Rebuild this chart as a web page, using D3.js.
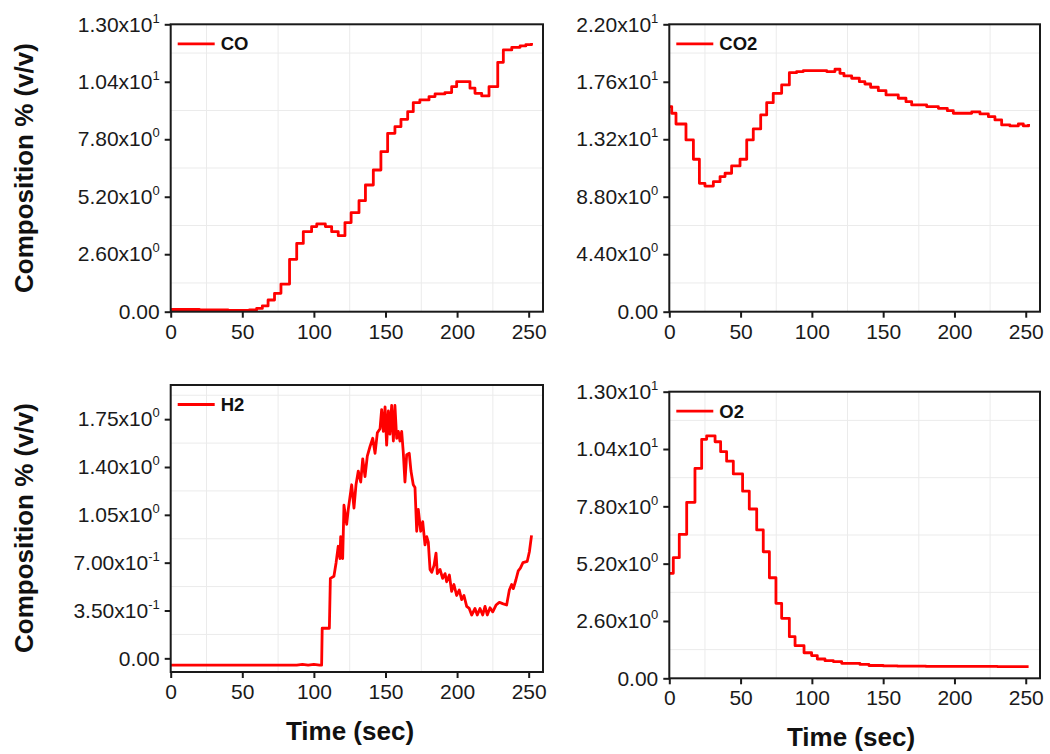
<!DOCTYPE html>
<html><head><meta charset="utf-8">
<script src="https://cdn.jsdelivr.net/npm/d3@7"></script>
<style>
body{margin:0;background:#fff}
svg{display:block}
text{font-family:"Liberation Sans",Arial,Helvetica,sans-serif}
</style>
</head><body>
<svg id="c" width="1050" height="754"></svg>
<script>
// ---------- data ----------
const xTicks = [0, 50, 100, 150, 200, 250];
const xGrid = [25, 75, 125, 175, 225];

const coTicks = [0, 2.6, 5.2, 7.8, 10.4, 13];
const coGrid = [1.3, 3.9, 6.5, 9.1, 11.7];
const coTime = [0, 20, 40, 55, 60, 64, 68, 72.5, 77, 83, 88, 92.6, 98.4, 102, 108, 112.4, 117, 121.7, 126, 131.5, 136, 141.5, 146.8, 151.5, 156.6, 160.8, 165.5, 169.4, 174, 180.4, 184.6, 191.5, 196.2, 199.7, 209, 212.5, 217.2, 222.3, 228.4, 232.3, 238.2, 244, 248, 252];
const coValue = [0.10, 0.08, 0.06, 0.08, 0.15, 0.26, 0.53, 0.83, 1.25, 2.37, 3.09, 3.62, 3.85, 3.97, 3.85, 3.62, 3.44, 4.03, 4.48, 5.02, 5.73, 6.41, 7.24, 8.07, 8.37, 8.70, 9.05, 9.46, 9.58, 9.73, 9.85, 9.91, 10.18, 10.41, 10.11, 9.88, 9.76, 10.18, 11.28, 11.84, 11.96, 12.02, 12.08, 12.15];

const co2Ticks = [0, 4.4, 8.8, 13.2, 17.6, 22];
const co2Grid = [2.2, 6.6, 11, 15.4, 19.8];
const co2Time = [0, 1.7, 4.7, 11.7, 16.9, 21.1, 25, 30.9, 35.6, 39.1, 43.7, 49.6, 54.3, 58.9, 64.1, 68.3, 72.9, 78.8, 84.2, 89.3, 94, 110.4, 116.2, 119.7, 122.5, 127.9, 133.3, 137.2, 141.2, 146.6, 152, 160.6, 166, 170, 180.5, 188.7, 195, 199.2, 212.1, 217.9, 223.8, 228.4, 233.1, 238.9, 244.8, 248.3, 252];
const co2Value = [15.70, 15.19, 14.37, 13.15, 11.67, 9.83, 9.62, 9.95, 10.34, 10.60, 11.16, 11.67, 13.15, 13.99, 15.06, 16.00, 16.72, 17.36, 18.30, 18.38, 18.45, 18.38, 18.56, 18.25, 18.05, 17.87, 17.61, 17.43, 17.18, 16.92, 16.59, 16.34, 16.08, 15.83, 15.70, 15.57, 15.39, 15.19, 15.29, 15.14, 14.93, 14.68, 14.30, 14.22, 14.37, 14.22, 14.37];

const h2Ticks = [0, 0.35, 0.7, 1.05, 1.4, 1.75];
const h2Grid = [0.175, 0.525, 0.875, 1.225, 1.575, 1.925];
const h2Time = [0, 88, 92, 96, 100, 104, 105.4, 105.8, 110.8, 111.5, 114, 115.5, 117, 118.2, 118.7, 120.1, 121, 122.9, 124, 126.4, 128, 129.4, 131, 132.7, 134.1, 135.7, 137.3, 139.2, 141.1, 142.7, 144.3, 146.2, 147.3, 148.5, 149.7, 150.8, 152, 153.1, 154.3, 155.5, 156.6, 157.8, 159, 160.1, 161.3, 162.4, 163.6, 164.8, 166.6, 167.8, 169.4, 170.6, 171.8, 172.9, 174.6, 176, 177.6, 178.8, 179.9, 181.1, 182.3, 183.9, 185.3, 186.2, 188.1, 189.9, 191.6, 192.7, 194.6, 196.2, 197.8, 199.7, 201.5, 203.2, 204.8, 206.7, 208.5, 210.2, 212.5, 214.1, 216, 217.9, 219.5, 221.1, 223, 224.9, 227.2, 229.5, 231.8, 234.6, 236.5, 238.1, 239.3, 241.1, 242.7, 244.2, 246, 249, 250.5, 252];
const h2Value = [-0.05, -0.05, -0.045, -0.05, -0.045, -0.05, -0.05, 0.22, 0.22, 0.585, 0.60, 0.70, 0.82, 0.73, 0.89, 0.73, 1.12, 0.98, 1.09, 1.27, 1.10, 1.27, 1.37, 1.29, 1.46, 1.33, 1.48, 1.55, 1.61, 1.50, 1.65, 1.68, 1.82, 1.66, 1.84, 1.56, 1.81, 1.64, 1.85, 1.59, 1.85, 1.61, 1.66, 1.59, 1.66, 1.51, 1.29, 1.49, 1.50, 1.37, 1.27, 1.25, 0.93, 1.09, 0.93, 1.00, 0.83, 0.89, 0.85, 0.65, 0.63, 0.68, 0.77, 0.62, 0.65, 0.585, 0.62, 0.56, 0.61, 0.49, 0.54, 0.46, 0.50, 0.43, 0.46, 0.38, 0.365, 0.317, 0.365, 0.317, 0.365, 0.317, 0.38, 0.317, 0.37, 0.34, 0.39, 0.41, 0.40, 0.39, 0.50, 0.54, 0.51, 0.575, 0.64, 0.66, 0.70, 0.71, 0.78, 0.90];

const o2Ticks = [0, 2.6, 5.2, 7.8, 10.4, 13];
const o2Grid = [1.3, 3.9, 6.5, 9.1, 11.7];
const o2Time = [0, 2.8, 7, 12.2, 18, 22.7, 26.2, 32.1, 36, 40.2, 44.9, 51.4, 56.1, 61.3, 65.9, 70.2, 74.8, 78.8, 84.2, 88.2, 94.5, 99.8, 103.8, 109.2, 115, 120.9, 133.7, 140, 150, 160, 180, 200, 230, 252];
const o2Value = [4.76, 5.47, 6.53, 7.98, 9.52, 10.84, 11.0, 10.73, 10.28, 9.85, 9.27, 8.49, 7.68, 6.73, 5.74, 4.56, 3.40, 2.72, 1.89, 1.48, 1.16, 1.03, 0.875, 0.80, 0.76, 0.68, 0.63, 0.58, 0.56, 0.55, 0.54, 0.54, 0.53, 0.53];

const seriesNames = ["CO", "CO2", "H2", "O2"];
const yLabel = "Composition % (v/v)";
const xLabel = "Time (sec)";

// ---------- drawing ----------
const svg = d3.select("#c");
const FONT = '"Liberation Sans",Arial,Helvetica,sans-serif';
const xDomain = [0, 260];

const panels = [
  {name: seriesNames[0], time: coTime, value: coValue, ticks: coTicks, grid: coGrid, yDomain: [0, 13], curve: d3.curveStepAfter,
   left: 170.7, right: 543, top: 24.3, bottom: 311.7},
  {name: seriesNames[1], time: co2Time, value: co2Value, ticks: co2Ticks, grid: co2Grid, yDomain: [0, 22], curve: d3.curveStepAfter,
   left: 669.3, right: 1040, top: 24.3, bottom: 311.7},
  {name: seriesNames[2], time: h2Time, value: h2Value, ticks: h2Ticks, grid: h2Grid, yDomain: [-0.1, 2.0], curve: d3.curveLinear,
   left: 170.7, right: 543, top: 385, bottom: 672},
  {name: seriesNames[3], time: o2Time, value: o2Value, ticks: o2Ticks, grid: o2Grid, yDomain: [0, 13], curve: d3.curveStepAfter,
   left: 669.3, right: 1040, top: 391.7, bottom: 678.3}
];

function sciParts(v) {
  if (v === 0) return ["0.00", null];
  const e = Math.floor(Math.log10(v) + 1e-9);
  const m = v / Math.pow(10, e);
  return [m.toFixed(2) + "x10", String(e)];
}

panels.forEach(p => {
  const x = d3.scaleLinear().domain(xDomain).range([p.left, p.right]);
  const y = d3.scaleLinear().domain(p.yDomain).range([p.bottom, p.top]);
  const g = svg.append("g");

  // grid
  g.append("g").selectAll("line").data(xGrid).join("line")
    .attr("x1", d => x(d)).attr("x2", d => x(d))
    .attr("y1", p.top).attr("y2", p.bottom)
    .attr("stroke", "#ebebeb").attr("stroke-width", 1);
  g.append("g").selectAll("line").data(p.grid).join("line")
    .attr("x1", p.left).attr("x2", p.right)
    .attr("y1", d => y(d)).attr("y2", d => y(d))
    .attr("stroke", "#ebebeb").attr("stroke-width", 1);

  // series
  const pts = p.time.map((t, i) => [t, p.value[i]]);
  g.append("path").datum(pts)
    .attr("d", d3.line().x(d => x(d[0])).y(d => y(d[1])).curve(p.curve))
    .attr("fill", "none").attr("stroke", "#ff0000")
    .attr("stroke-width", 2.8).attr("stroke-linejoin", "round");

  // frame
  g.append("rect").attr("x", p.left).attr("y", p.top)
    .attr("width", p.right - p.left).attr("height", p.bottom - p.top)
    .attr("fill", "none").attr("stroke", "#1a1a1a").attr("stroke-width", 2);

  // x axis
  const ax = g.append("g").attr("transform", `translate(0,${p.bottom})`)
    .call(d3.axisBottom(x).tickValues(xTicks).tickSize(6).tickSizeOuter(0).tickPadding(6).tickFormat(d3.format("d")));
  ax.select(".domain").remove();
  ax.attr("font-family", FONT).attr("font-size", 21);
  ax.selectAll(".tick line").attr("stroke", "#1a1a1a").attr("stroke-width", 2);
  ax.selectAll(".tick text").attr("fill", "#1a1a1a");

  // y axis
  const ay = g.append("g").attr("transform", `translate(${p.left},0)`)
    .call(d3.axisLeft(y).tickValues(p.ticks).tickSize(6).tickSizeOuter(0).tickPadding(5).tickFormat(""));
  ay.select(".domain").remove();
  ay.attr("font-family", FONT).attr("font-size", 21);
  ay.selectAll(".tick line").attr("stroke", "#1a1a1a").attr("stroke-width", 2);
  ay.selectAll(".tick text").each(function(d) {
    const t = d3.select(this).attr("fill", "#1a1a1a");
    const [m, e] = sciParts(d);
    t.text(null);
    t.append("tspan").text(m);
    if (e !== null) t.append("tspan").attr("font-size", 13).attr("dy", -9).text(e);
  });

  // legend
  const ly = p.top + 19.5;
  g.append("line").attr("x1", p.left + 7).attr("x2", p.left + 44)
    .attr("y1", ly).attr("y2", ly).attr("stroke", "#ff0000").attr("stroke-width", 2.8);
  g.append("text").attr("x", p.left + 50).attr("y", ly + 6.5)
    .attr("font-size", 18.5).attr("font-weight", "bold").attr("fill", "#111").text(p.name);
});

// axis titles
[168, 528].forEach(cy => {
  svg.append("text").attr("transform", `translate(33,${cy}) rotate(-90)`)
    .attr("text-anchor", "middle").attr("font-size", 26).attr("font-weight", "bold")
    .attr("fill", "#111").text(yLabel);
});
[[350, 740], [851, 746]].forEach(([cx, by]) => {
  svg.append("text").attr("x", cx).attr("y", by)
    .attr("text-anchor", "middle").attr("font-size", 26).attr("font-weight", "bold")
    .attr("fill", "#111").text(xLabel);
});
</script>
</body></html>
